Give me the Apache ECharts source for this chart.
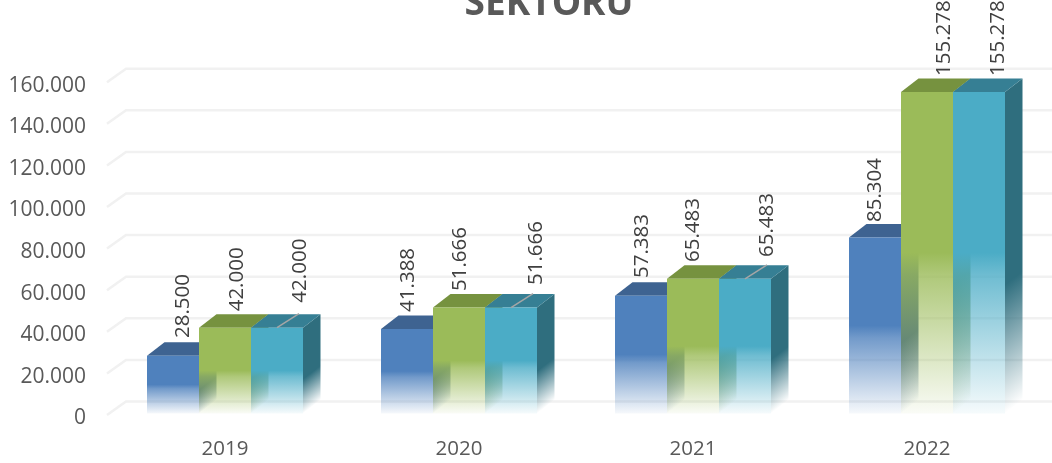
<!DOCTYPE html>
<html><head><meta charset="utf-8">
<style>html,body{margin:0;padding:0;background:#fff;overflow:hidden}#c{width:1052px;height:463px}</style>
<script src="https://cdn.jsdelivr.net/npm/echarts@6/dist/echarts.min.js"></script>
</head><body><div id="c"></div>
<script>
const titleText = 'SEKTORU';
const categories = ['2019', '2020', '2021', '2022'];
const seriesA = [28500, 41388, 57383, 85304];
const seriesB = [42000, 51666, 65483, 155278];
const seriesC = [42000, 51666, 65483, 155278];
const yTicks = [0, 20000, 40000, 60000, 80000, 100000, 120000, 140000, 160000];

// label placement, relative to each bar's top-centre
const labelDx = [[9.7, 1, 1, 0], [11.7, 1, 0, 17], [23, 25, 22, 19]];
const labelLift = [[17.7, 17, 17.6, 15.6], [16.3, 16.5, 16.8, 16], [25, 22.5, 21.8, 16]];
const leaderFlags = [[0,0,0,0], [0,0,0,0], [1,1,1,0]];

const DX = 17.5, DY = 13.5, BASE_CUT = 1.5, BAR_W = 52;
const palette = [
  {rgb:'79,129,189',  top:'#3e6391', side:'59,96,142'},
  {rgb:'155,187,89',  top:'#76923f', side:'116,141,65'},
  {rgb:'75,172,198',  top:'#367f94', side:'47,110,126'}
];
const fmt = v => String(v).replace(/\B(?=(\d{3})+(?!\d))/g, '.');

function frontFill(rgb, yT, yB) {
  return {type:'linear', global:true, x:0, y:yT, x2:0, y2:yB, colorStops:[
    {offset:0, color:`rgba(${rgb},1)`},
    {offset:0.5, color:`rgba(${rgb},1)`},
    {offset:0.57, color:`rgba(${rgb},0.8)`},
    {offset:1, color:`rgba(${rgb},0.05)`}
  ]};
}
function sideFill(rgb, x, yT, yB) {
  const t = (yB - yT) * DX / (DY * DY + DX * DX);
  return {type:'linear', global:true, x:x, y:yT, x2:x + t * DY, y2:yT + t * DX, colorStops:[
    {offset:0, color:`rgba(${rgb},1)`},
    {offset:0.6, color:`rgba(${rgb},1)`},
    {offset:1, color:`rgba(${rgb},0)`}
  ]};
}

function barRenderer(sIdx) {
  return function (params, api) {
    const i = api.value(0), v = api.value(1);
    const top = api.coord([i, v]), base = api.coord([i, 0]);
    const cx = top[0] + (sIdx - 1) * BAR_W;
    const xL = cx - BAR_W / 2, xR = cx + BAR_W / 2;
    const yT = top[1], yB = base[1] - BASE_CUT;
    const p = palette[sIdx];
    const kids = [
      {type:'polygon', shape:{points:[[xR,yT],[xR+DX,yT-DY],[xR+DX,yB-DY],[xR,yB]]},
       style:{fill:sideFill(p.side, xR, yT, yB)}},
      {type:'polygon', shape:{points:[[xL,yT],[xL+DX,yT-DY],[xR+DX,yT-DY],[xR,yT]]},
       style:{fill:p.top}},
      {type:'rect', shape:{x:xL, y:yT, width:BAR_W, height:yB-yT},
       style:{fill:frontFill(p.rgb, yT, yB)}}
    ];
    if (leaderFlags[sIdx][i]) {
      kids.push({type:'line', shape:{x1:cx, y1:yT, x2:cx+22, y2:yT-14},
        style:{stroke:'#a6a6a6', lineWidth:1.5}});
    }
    kids.push({type:'text', x:cx + labelDx[sIdx][i], y:yT - labelLift[sIdx][i], rotation:Math.PI/2,
      z2:50,
      style:{text:fmt(v), align:'left', verticalAlign:'middle',
        font:'20.5px "Open Sans", sans-serif', fill:'#404040'}});
    return {type:'group', children:kids};
  };
}

function gridRenderer(params, api) {
  const y = api.coord([0, api.value(1)])[1];
  const x0 = params.coordSys.x - 1;
  return {type:'polyline', shape:{points:[[x0,y],[x0+19,y-DY],[1052,y-DY]]},
    style:{stroke:'#f1f1f1', lineWidth:2.5, fill:null}};
}

function barSeries(name, values, sIdx) {
  return {type:'custom', name, z:3+sIdx, clip:false, renderItem:barRenderer(sIdx),
    encode:{x:0, y:1}, data:values.map((v,i)=>[i,v])};
}

const chart = echarts.init(document.getElementById('c'), null, {renderer:'canvas'});
chart.setOption({
  animation:false,
  backgroundColor:'#fff',
  title:{text:titleText, left:544, textAlign:'center', top:-19,
    textStyle:{fontFamily:'"Open Sans", sans-serif', fontWeight:'bold', fontSize:37, color:'#595959'}},
  grid:{left:108, top:82.2, width:936, height:332.8, containLabel:false},
  xAxis:{type:'category', data:categories, axisLine:{show:false}, axisTick:{show:false},
    axisLabel:{margin:24, fontSize:20.5, color:'#595959', fontFamily:'"Open Sans", sans-serif'}},
  yAxis:{type:'value', min:0, max:160000, interval:20000, splitLine:{show:false},
    axisLine:{show:false}, axisTick:{show:false},
    axisLabel:{margin:22, fontSize:21, color:'#595959', fontFamily:'"Open Sans", sans-serif', verticalAlign:'top', lineHeight:7, formatter:fmt}},
  series:[
    {type:'custom', name:'grid', z:1, clip:false, silent:true, renderItem:gridRenderer,
      encode:{x:0, y:1}, data:yTicks.map(v=>[0,v])},
    barSeries('A', seriesA, 0),
    barSeries('B', seriesB, 1),
    barSeries('C', seriesC, 2)
  ]
});
</script></body></html>
